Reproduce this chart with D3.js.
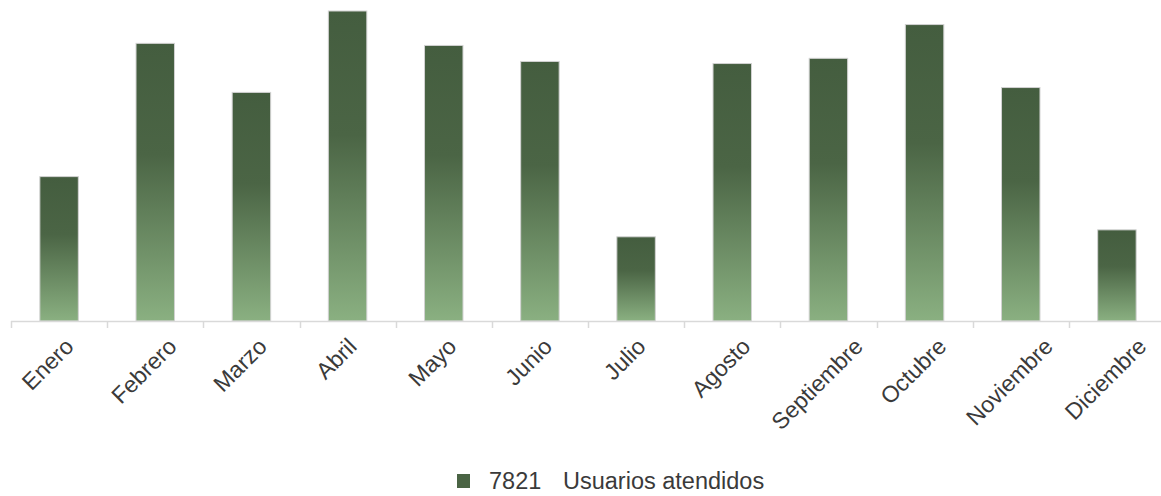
<!DOCTYPE html>
<html>
<head>
<meta charset="utf-8">
<script src="https://cdn.jsdelivr.net/npm/d3@7"></script>
<style>
  html, body { margin: 0; padding: 0; background: #fff; }
  svg { display: block; font-family: "Liberation Sans", Arial, sans-serif; }
</style>
</head>
<body>
<svg id="chart" width="1161" height="496"></svg>
<script>
const categories = ["Enero","Febrero","Marzo","Abril","Mayo","Junio","Julio","Agosto","Septiembre","Octubre","Noviembre","Diciembre"];
const values = [415, 798, 657, 891, 792, 746, 242, 740, 755, 852, 671, 262];
const legendTotal = "7821";
const legendLabel = "Usuarios atendidos";

const svg = d3.select("#chart");
const baseY = 321;
const x = d3.scaleBand().domain(categories).range([11, 1165]).paddingInner(0.6).paddingOuter(0.3);
const y = d3.scaleLinear().domain([0, 900]).range([baseY, baseY - 900 * 310 / 891]);

const defs = svg.append("defs");
const grad = defs.append("linearGradient").attr("id", "barGrad")
  .attr("x1", 0).attr("y1", 0).attr("x2", 0).attr("y2", 1);
grad.append("stop").attr("offset", "0%").attr("stop-color", "#445d3f");
grad.append("stop").attr("offset", "40%").attr("stop-color", "#4b6545");
grad.append("stop").attr("offset", "100%").attr("stop-color", "#8ab081");

// bars
svg.append("g").selectAll("rect").data(categories).join("rect")
  .attr("x", d => x(d))
  .attr("y", (d, i) => y(values[i]))
  .attr("width", x.bandwidth())
  .attr("height", (d, i) => baseY - y(values[i]))
  .attr("fill", "url(#barGrad)")
  .attr("stroke", "#d2d2d2")
  .attr("stroke-width", 1);

// axis line + ticks at band boundaries
const step = x.step();
const axisG = svg.append("g");
axisG.append("line").attr("x1", 11).attr("x2", 1161).attr("y1", baseY + 0.5).attr("y2", baseY + 0.5)
  .attr("stroke", "#d9d9d9").attr("stroke-width", 1.5);
const bounds = d3.range(categories.length + 1).map(i => 11 + i * step);
axisG.selectAll("line.tick").data(bounds).join("line").attr("class", "tick")
  .attr("x1", d => Math.round(d) + 0.5).attr("x2", d => Math.round(d) + 0.5)
  .attr("y1", baseY).attr("y2", baseY + 7)
  .attr("stroke", "#d9d9d9").attr("stroke-width", 1.5);

// labels
const fs = 23;
const labels = svg.append("g").selectAll("text").data(categories).join("text")
  .attr("font-size", fs)
  .attr("fill", "#3a3a3a")
  .attr("text-anchor", "end")
  .text(d => d);
labels.each(function(d) {
  const L = this.getComputedTextLength();
  const c = x(d) + x.bandwidth() / 2;
  const a = 0.72 * fs, de = 0.2 * fs;
  const px = c - 10 + (L + a - de) / (2 * Math.SQRT2);
  const py = 348;
  d3.select(this).attr("transform", `translate(${px},${py}) rotate(-45)`);
});

// legend
const lg = svg.append("g");
lg.append("rect").attr("x", 457).attr("y", 474).attr("width", 13).attr("height", 14).attr("fill", "#4a6444");
lg.append("text").attr("x", 489).attr("y", 489).attr("font-size", 23.5).attr("fill", "#3a3a3a").text(legendTotal);
lg.append("text").attr("x", 563).attr("y", 489).attr("font-size", 23.5).attr("fill", "#3a3a3a").text(legendLabel);
</script>
</body>
</html>
